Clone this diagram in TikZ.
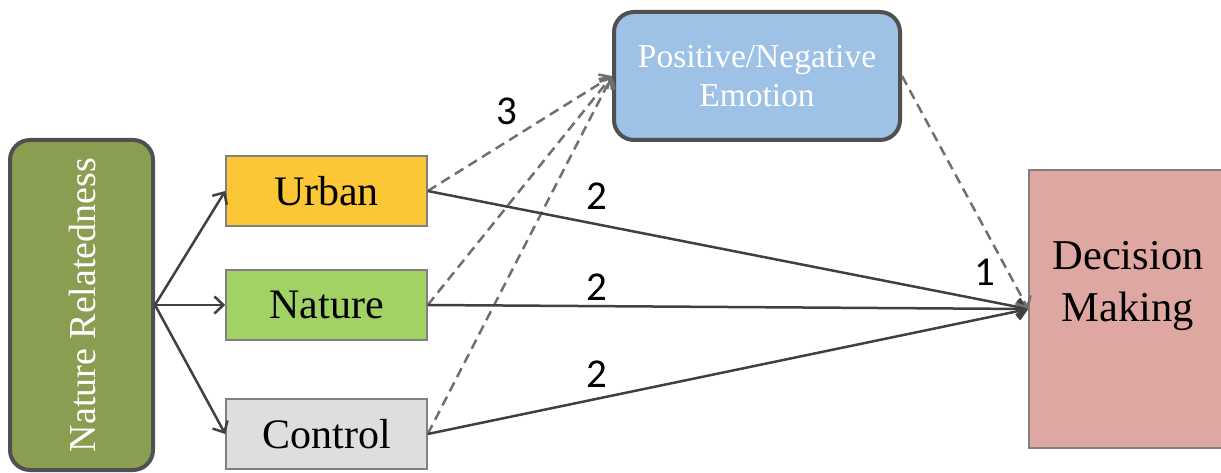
\documentclass[tikz,border=0pt]{standalone}
\usepackage{fontspec}
\setmainfont{Liberation Serif}
\newfontfamily\digitfont{Carlito}
\usetikzlibrary{arrows.meta}
\definecolor{nrgreen}{RGB}{138,158,82}
\definecolor{urbanfill}{RGB}{252,199,55}
\definecolor{naturefill}{RGB}{161,210,99}
\definecolor{controlfill}{RGB}{222,222,222}
\definecolor{emofill}{RGB}{157,194,230}
\definecolor{dmfill}{RGB}{223,167,162}
\definecolor{darkborder}{RGB}{80,80,80}
\definecolor{lightborder}{RGB}{128,128,128}
\definecolor{solidline}{RGB}{64,64,64}
\definecolor{dashline}{RGB}{112,112,112}
\tikzset{
  bigbox/.style={draw=darkborder, line width=4pt, rounded corners=20pt, inner sep=0pt},
  condbox/.style={draw=lightborder, line width=1.5pt, minimum width=201pt, minimum height=70pt, inner sep=0pt,
    font=\fontsize{42}{48}\selectfont},
  solidarrow/.style={draw=solidline, line width=2.5pt, -{Straight Barb[length=9pt,width=17pt,line width=2.5pt]}},
  dasharrow/.style={draw=dashline, line width=2.5pt, dash pattern=on 10pt off 6pt, -{Straight Barb[length=9pt,width=17pt,line width=2.5pt]}},
  numlabel/.style={font=\digitfont\fontsize{41}{46}\selectfont, inner sep=0pt}
}
\begin{document}
\begin{tikzpicture}[x=1pt,y=-1pt]
\useasboundingbox (0,0) rectangle (1221,473);
% Nature relatedness
\node[bigbox, fill=nrgreen, minimum width=143pt, minimum height=330pt] (nr) at (81.5,305) {};
\node[rotate=90, text=white, font=\fontsize{38}{44}\selectfont, inner sep=0pt] (nrtext) at (83,305) {Nature Relatedness};
% conditions
\node[condbox, fill=urbanfill] (urban) at (326.5,191) {Urban};
\node[condbox, fill=naturefill] (nature) at (326.5,305) {Nature};
\node[condbox, fill=controlfill] (control) at (326.5,434) {Control};
% emotion
\node[bigbox, fill=emofill, minimum width=286pt, minimum height=128pt, text=white, align=center,
  font=\fontsize{33.5}{39}\selectfont] (emo) at (757,76) {Positive/Negative\\Emotion};
% decision making
\node[draw=lightborder, line width=1.5pt, fill=dmfill, minimum width=193pt, minimum height=278pt, inner sep=0pt] (dm) at (1125.5,309) {};
\node[align=center, font=\fontsize{42.5}{52}\selectfont, inner sep=0pt] (dmtext) at (1128,286) {Decision\\Making};
% arrows from NR
\draw[solidarrow] (nr.east) -- (urban.west);
\draw[solidarrow] (nr.east) -- (nature.west);
\draw[solidarrow] (nr.east) -- (control.west);
% dashed to emotion
\draw[dasharrow] (urban.east) -- (emo.west);
\draw[dasharrow] (nature.east) -- (emo.west);
\draw[dasharrow] (control.east) -- (emo.west);
% solid to decision
\draw[solidarrow] (urban.east) -- (dm.west);
\draw[solidarrow] (nature.east) -- (dm.west);
\draw[solidarrow] (control.east) -- (dm.west);
% dashed emotion to decision
\draw[dasharrow] (emo.east) -- (dm.west);
% labels
\node[numlabel] (l3) at (507,111) {3};
\node[numlabel] (l2a) at (597,196) {2};
\node[numlabel] (l2b) at (597,287) {2};
\node[numlabel] (l2c) at (597,374) {2};
\node[numlabel] (l1) at (985,272) {1};
\end{tikzpicture}
\end{document}
